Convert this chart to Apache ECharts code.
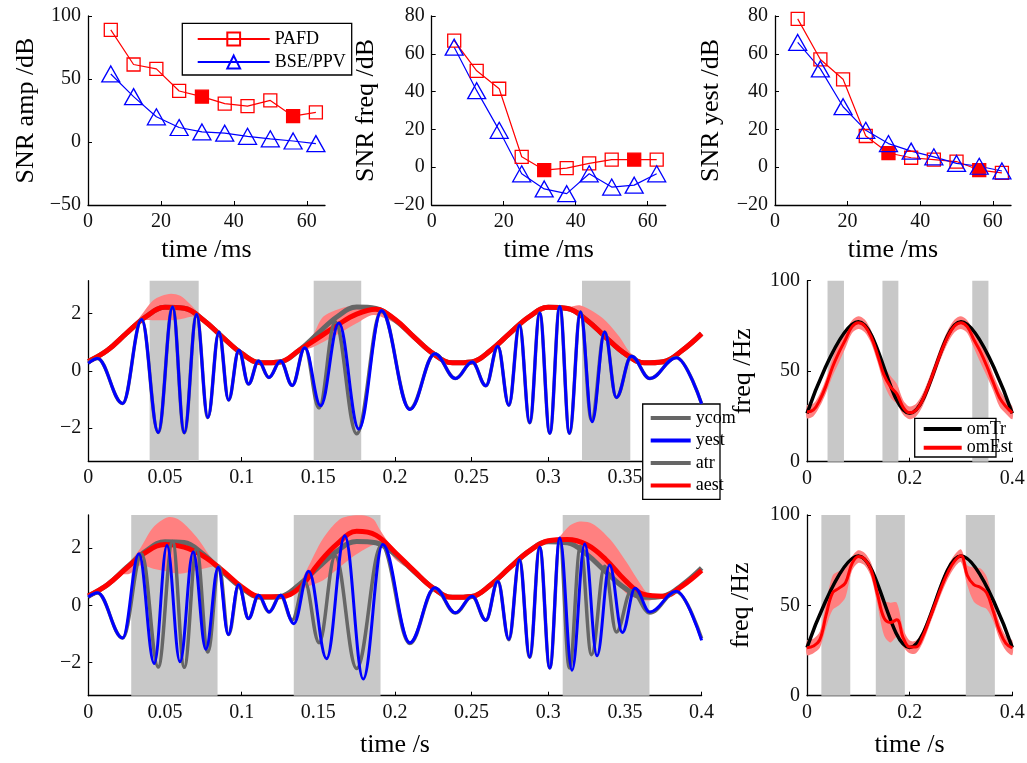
<!DOCTYPE html>
<html>
<head>
<meta charset="utf-8">
<title>PAFD vs BSE/PPV</title>
<script src="https://cdn.jsdelivr.net/npm/echarts@6/dist/echarts.min.js"></script>
</head>
<body style="margin:0;background:#fff">
<div id="main" style="width:1027px;height:763px"></div>
<script type="text/javascript">
    // SNR panels (time in ms)
    var snrTime = [6.25, 12.5, 18.75, 25, 31.25, 37.5, 43.75, 50, 56.25, 62.5];
    var snrFilled = [31.25, 56.25];
    var ampPafd = [89, 61.5, 58, 40.5, 36, 30.5, 28.5, 33, 20.5, 23.5];
    var ampBse = [54, 36, 20, 11.5, 8, 7, 4.5, 2.5, 0.8, -1.3];
    var freqPafd = [67, 51, 41.5, 5.5, -1.5, -0.5, 2, 4, 4, 4];
    var freqBse = [63.5, 40.5, 19.5, -3.5, -11.5, -14, -3.5, -10.5, -9.5, -3.5];
    var yestPafd = [78.5, 57, 46.5, 16.5, 7.5, 5, 4, 3, -1.5, -3];
    var yestBse = [66, 52, 32, 19.5, 12.5, 8.5, 5.5, 2, 0.5, -2];

    // shaded (missing data) intervals, s
    var shadeMid = [[0.040, 0.072], [0.147, 0.178], [0.322, 0.3535]];
    var shadeLow = [[0.028, 0.0843], [0.134, 0.1906], [0.3094, 0.366]];

    // signal extrema [t, y]
    var ycom = [[0, 0.28], [0.006, 0.43], [0.0224, -1.14], [0.0348, 1.79], [0.0456, -2.15], [0.055, 2.23],
        [0.0626, -2.16], [0.0706, 1.97], [0.078, -1.63], [0.0852, 1.36], [0.0915, -1.02], [0.0982, 0.72],
        [0.1045, -0.46], [0.111, 0.34], [0.1178, -0.23], [0.1254, 0.34], [0.133, -0.51], [0.1412, 0.81],
        [0.1505, -1.3], [0.161, 1.72], [0.175, -2.2], [0.1912, 2.1], [0.2097, -1.33], [0.226, 0.6],
        [0.2395, -0.27], [0.2504, 0.31], [0.2593, -0.52], [0.2671, 0.85], [0.2743, -1.2], [0.2812, 1.59],
        [0.2879, -1.81], [0.2944, 2.02], [0.301, -2.18], [0.3075, 2.25], [0.3138, -2.18], [0.321, 2.06],
        [0.3282, -1.72], [0.3368, 1.36], [0.3444, -0.93], [0.3542, 0.51], [0.3662, -0.27], [0.3835, 0.47],
        [0.4, -1.15]];
    var yestMid = [[0, 0.26], [0.006, 0.43], [0.0224, -1.14], [0.0348, 1.79], [0.0456, -2.15], [0.055, 2.23],
        [0.0626, -2.16], [0.0706, 1.97], [0.078, -1.63], [0.0852, 1.36], [0.0915, -1.02], [0.0982, 0.72],
        [0.1045, -0.46], [0.111, 0.34], [0.1178, -0.23], [0.1254, 0.34], [0.133, -0.51], [0.1412, 0.81],
        [0.1515, -1.22], [0.1634, 1.67], [0.1764, -2.03], [0.1912, 2.1], [0.2097, -1.35], [0.226, 0.6],
        [0.2395, -0.27], [0.2504, 0.31], [0.2593, -0.52], [0.2671, 0.86], [0.2743, -1.2], [0.2812, 1.59],
        [0.2879, -1.81], [0.2944, 2.02], [0.301, -2.18], [0.3075, 2.25], [0.3138, -2.18], [0.321, 2.06],
        [0.3286, -1.78], [0.3368, 1.36], [0.3444, -0.93], [0.3542, 0.51], [0.3662, -0.27], [0.3835, 0.46],
        [0.4, -1.15]];
    var yestLow = [[0, 0.29], [0.006, 0.44], [0.0224, -1.14], [0.033, 1.8], [0.043, -2.03], [0.0513, 2.09],
        [0.0598, -1.97], [0.0684, 1.86], [0.0767, -1.53], [0.0847, 1.33], [0.0913, -1.02], [0.098, 0.72],
        [0.1045, -0.46], [0.111, 0.35], [0.118, -0.23], [0.1254, 0.35], [0.134, -0.64], [0.1438, 1.19],
        [0.1554, -1.86], [0.1673, 2.43], [0.1793, -2.57], [0.192, 2.12], [0.2097, -1.3], [0.226, 0.61],
        [0.2395, -0.26], [0.2504, 0.32], [0.2593, -0.52], [0.2671, 0.83], [0.2743, -1.18], [0.2812, 1.59],
        [0.2879, -1.8], [0.2944, 2.03], [0.301, -2.18], [0.3075, 2.35], [0.3155, -2.26], [0.3238, 2.14],
        [0.3318, -1.76], [0.34, 1.41], [0.3483, -0.95], [0.3566, 0.6], [0.3662, -0.23], [0.3835, 0.49],
        [0.4, -1.22]];

    // envelopes on a common time grid
    var envT = [0, 0.0125, 0.025, 0.0375, 0.05, 0.0625, 0.075, 0.0875, 0.1, 0.1125, 0.125, 0.1375, 0.15,
        0.1625, 0.175, 0.1875, 0.2, 0.2125, 0.225, 0.2375, 0.25, 0.2625, 0.275, 0.2875, 0.3, 0.3125, 0.325,
        0.3375, 0.35, 0.3625, 0.375, 0.3875, 0.4];
    var atr = [0.33, 0.72, 1.32, 1.89, 2.22, 2.19, 1.78, 1.18, 0.61, 0.28, 0.31, 0.72, 1.32, 1.9, 2.23, 2.18,
        1.78, 1.18, 0.6, 0.28, 0.31, 0.72, 1.32, 1.89, 2.22, 2.18, 1.78, 1.17, 0.6, 0.28, 0.32, 0.72, 1.3];
    var aestMid = [0.33, 0.72, 1.32, 1.89, 2.22, 2.19, 1.78, 1.18, 0.61, 0.28, 0.31, 0.72, 1.15, 1.6, 1.98, 2.15,
        1.8, 1.18, 0.6, 0.28, 0.31, 0.72, 1.32, 1.89, 2.22, 2.18, 1.78, 1.17, 0.6, 0.28, 0.32, 0.72, 1.3];
    var aestLow = [0.33, 0.72, 1.3, 1.85, 2.12, 2.03, 1.72, 1.22, 0.65, 0.3, 0.3, 0.6, 1.45, 2.15, 2.58, 2.45,
        1.85, 1.2, 0.6, 0.28, 0.31, 0.72, 1.32, 1.89, 2.25, 2.3, 2.12, 1.6, 0.88, 0.38, 0.32, 0.68, 1.22];

    // aest confidence bands: [t], [lower], [upper]
    var bandMid = [
        [[0.03, 0.036, 0.042, 0.048, 0.054, 0.06, 0.066, 0.072, 0.076],
         [1.52, 1.76, 1.77, 1.77, 1.77, 1.8, 1.88, 1.9, 1.7],
         [1.6, 2.05, 2.45, 2.62, 2.69, 2.62, 2.35, 2.02, 1.78]],
        [[0.138, 0.146, 0.153, 0.164, 0.175, 0.186, 0.197, 0.205],
         [0.7, 0.82, 1.0, 1.32, 1.66, 1.95, 1.75, 1.52],
         [0.78, 1.2, 1.88, 2.17, 2.29, 2.24, 1.98, 1.6]],
        [[0.305, 0.314, 0.3205, 0.329, 0.338, 0.3465, 0.353, 0.36],
         [2.17, 2.1, 1.98, 1.6, 1.05, 0.65, 0.42, 0.28],
         [2.25, 2.24, 2.29, 2.08, 1.72, 1.18, 0.66, 0.36]]
    ];
    var bandLow = [
        [[0.022, 0.027, 0.0337, 0.0424, 0.052, 0.0598, 0.0706, 0.079, 0.0837, 0.088],
         [1.1, 1.1, 1.39, 1.28, 1.18, 1.1, 1.22, 1.33, 1.33, 1.18],
         [1.18, 1.5, 1.97, 2.72, 3.07, 2.96, 2.38, 1.74, 1.45, 1.24]],
        [[0.128, 0.134, 0.1423, 0.153, 0.164, 0.1727, 0.18, 0.186, 0.19, 0.195, 0.2, 0.207],
         [0.28, 0.35, 0.64, 0.87, 1.33, 1.7, 1.95, 2.1, 2.12, 1.95, 1.62, 1.35],
         [0.32, 0.45, 1.22, 2.32, 3.0, 3.13, 3.13, 3.0, 2.65, 2.25, 1.97, 1.45]],
        [[0.303, 0.3075, 0.314, 0.3205, 0.329, 0.34, 0.351, 0.36, 0.366, 0.372],
         [2.22, 2.3, 2.25, 2.03, 1.62, 1.1, 0.41, 0.2, 0.17, 0.27],
         [2.28, 2.4, 2.78, 2.92, 2.84, 2.32, 1.51, 0.75, 0.35, 0.33]]
    ];

    // instantaneous frequency, Hz
    var omTr = [[0, 26.7], [0.1, 77.3], [0.2, 26.7], [0.3, 77.3], [0.4, 26.7]];
    var omEstMid = [27.5, 28.6, 34.1, 42.3, 52.5, 60.5, 67.5, 74.5, 76.8, 75, 69, 59, 48, 41.5, 37.5, 30, 27, 28.5,
        34, 42.5, 52, 61.5, 69.5, 75, 76.8, 74.5, 67.5, 61, 53, 44, 35.5, 30.5, 27];
    var omHalfMid = [3.5, 3.5, 3.5, 4, 5, 5.5, 4.5, 3.5, 3.5, 3.5, 3.5, 4, 5, 6, 5.5, 4, 3.5, 3.5, 3.5, 3.5, 3.5,
        3.5, 3.5, 3.5, 3.5, 3.5, 4.5, 6, 5.5, 4.5, 5, 4, 3.5];
    var omEstLow = [26.5, 27.5, 31, 45, 57, 59.5, 62.5, 73, 77, 75.5, 69.5, 56, 43, 40.5, 42, 32, 27, 27, 32.5,
        41.5, 51, 60.5, 68.5, 74.5, 77.5, 66.5, 61.5, 60, 57, 47, 36, 29, 26.5];
    var omHalfLow = [4, 4, 4.5, 7, 9.5, 9.5, 8, 4, 3.5, 3.5, 4, 6, 9.5, 11, 9.5, 5, 3.5, 3.5, 3.5, 3.5, 3.5, 3.5,
        3.5, 3.5, 3.5, 5.5, 9.5, 10.5, 9, 5.5, 4.5, 4, 4];

    var FONT = 'Liberation Serif';
    var PINK = '#ff8080';
    var SHADE = '#c8c8c8';

    var myChart = echarts.init(document.getElementById('main'));

    function pairs(t, v) {
        return t.map(function (x, i) { return [x, v[i]]; });
    }
    function minus(v) {
        return String(v).replace('-', '\u2212');
    }

    var grids = [
        {left: 88, top: 16, width: 237, height: 189},
        {left: 431.7, top: 16, width: 234, height: 189},
        {left: 775, top: 16, width: 236, height: 189},
        {left: 88.3, top: 280.7, width: 613.3, height: 180.3},
        {left: 88.3, top: 515, width: 613.3, height: 180.7},
        {left: 807, top: 280.7, width: 205.3, height: 181},
        {left: 807, top: 515, width: 205.3, height: 180.7}
    ].map(function (g) {
        g.outerBoundsMode = 'none';
        g.containLabel = false;
        return g;
    });

    function axis(i, min, max, ticks, name, gap) {
        return {
            type: 'value', gridIndex: i, min: min, max: max,
            axisLine: {show: true, onZero: false, lineStyle: {color: '#000', width: 1.3}},
            axisTick: {show: true, inside: true, length: 4, customValues: ticks,
                lineStyle: {color: '#000', width: 1}},
            axisLabel: {show: true, customValues: ticks, fontFamily: FONT, fontSize: 20, color: '#111',
                margin: 7, formatter: minus},
            splitLine: {show: false},
            name: name || '', nameLocation: 'middle', nameGap: gap || 0,
            nameTextStyle: {fontFamily: FONT, fontSize: 26, color: '#000'}
        };
    }

    var msTicks = [0, 20, 40, 60];
    var sTicks = [0, 0.05, 0.1, 0.15, 0.2, 0.25, 0.3, 0.35, 0.4];
    var xAxes = [
        axis(0, 0, 65, msTicks, 'time /ms', 32),
        axis(1, 0, 65, msTicks, 'time /ms', 32),
        axis(2, 0, 65, msTicks, 'time /ms', 32),
        axis(3, 0, 0.4, sTicks),
        axis(4, 0, 0.4, sTicks, 'time /s', 36),
        axis(5, 0, 0.4, [0, 0.2, 0.4]),
        axis(6, 0, 0.4, [0, 0.2, 0.4], 'time /s', 36)
    ];
    var yAxes = [
        axis(0, -50, 100, [-50, 0, 50, 100], 'SNR amp /dB', 49),
        axis(1, -20, 80, [-20, 0, 20, 40, 60, 80], 'SNR freq /dB', 53),
        axis(2, -20, 80, [-20, 0, 20, 40, 60, 80], 'SNR yest /dB', 51),
        axis(3, -3.15, 3.15, [-2, 0, 2]),
        axis(4, -3.15, 3.15, [-2, 0, 2]),
        axis(5, 0, 100, [0, 50, 100], 'freq /Hz', 51),
        axis(6, 0, 100, [0, 50, 100], 'freq /Hz', 53)
    ];

    var series = [];

    // gray shaded intervals
    [[3, shadeMid], [4, shadeLow], [5, shadeMid], [6, shadeLow]].forEach(function (s) {
        series.push({
            type: 'line', name: 'shade' + s[0], xAxisIndex: s[0], yAxisIndex: s[0],
            data: [], silent: true, symbol: 'none',
            markArea: {
                silent: true, itemStyle: {color: SHADE},
                data: s[1].map(function (r) { return [{xAxis: r[0]}, {xAxis: r[1]}]; })
            }
        });
    });

    // SNR panels
    function snrSeries(ax, pafd, bse) {
        series.push({
            type: 'line', name: 'PAFD', xAxisIndex: ax, yAxisIndex: ax,
            data: snrTime.map(function (t, i) {
                var p = {value: [t, pafd[i]]};
                if (snrFilled.indexOf(t) >= 0) p.itemStyle = {color: '#ff0000'};
                return p;
            }),
            symbol: 'rect', symbolSize: 13,
            itemStyle: {color: 'rgba(255,255,255,0)', borderColor: '#ff0000', borderWidth: 1.3},
            lineStyle: {color: '#ff0000', width: 1.2}
        });
        series.push({
            type: 'line', name: 'BSE/PPV', xAxisIndex: ax, yAxisIndex: ax,
            data: pairs(snrTime, bse),
            symbol: 'triangle', symbolSize: [18, 16],
            itemStyle: {color: 'rgba(255,255,255,0)', borderColor: '#0000ff', borderWidth: 1.3},
            lineStyle: {color: '#0000ff', width: 1.2}
        });
    }
    snrSeries(0, ampPafd, ampBse);
    snrSeries(1, freqPafd, freqBse);
    snrSeries(2, yestPafd, yestBse);

    // pink band polygon drawn through the axes
    function band(ax, t, lo, hi) {
        series.push({
            type: 'custom', name: 'band', xAxisIndex: ax, yAxisIndex: ax, silent: true,
            data: [[t[0], lo[0]]],
            renderItem: function (params, api) {
                var pts = [];
                for (var i = 0; i < t.length; i++) pts.push(api.coord([t[i], hi[i]]));
                for (var j = t.length - 1; j >= 0; j--) pts.push(api.coord([t[j], lo[j]]));
                return {type: 'polygon', shape: {points: pts, smooth: 0.3}, style: {fill: PINK}};
            }
        });
    }

    function line(ax, name, data, color, width, mono) {
        var s = {
            type: 'line', name: name, xAxisIndex: ax, yAxisIndex: ax, data: data,
            symbol: 'none', smooth: mono ? 0.38 : 0.4,
            lineStyle: {color: color, width: width}, itemStyle: {color: color}
        };
        if (mono) s.smoothMonotone = 'x';
        series.push(s);
    }

    // signal panels
    bandMid.forEach(function (b) { band(3, b[0], b[1], b[2]); });
    line(3, 'atr', pairs(envT, atr), '#666666', 5);
    line(3, 'aest', pairs(envT, aestMid), '#ff0000', 5);
    line(3, 'ycom', ycom, '#666666', 3.5, true);
    line(3, 'yest', yestMid, '#0000ff', 3, true);

    bandLow.forEach(function (b) { band(4, b[0], b[1], b[2]); });
    line(4, 'atr', pairs(envT, atr), '#666666', 5);
    line(4, 'aest', pairs(envT, aestLow), '#ff0000', 5);
    line(4, 'ycom', ycom, '#666666', 3.5, true);
    line(4, 'yest', yestLow, '#0000ff', 3, true);

    // frequency panels
    band(5, envT, omEstMid.map(function (v, i) { return v - omHalfMid[i]; }),
        omEstMid.map(function (v, i) { return v + omHalfMid[i]; }));
    line(5, 'omTr', omTr, '#000000', 3.5, true);
    line(5, 'omEst', pairs(envT, omEstMid), '#ff0000', 3);

    band(6, envT, omEstLow.map(function (v, i) { return v - omHalfLow[i]; }),
        omEstLow.map(function (v, i) { return v + omHalfLow[i]; }));
    line(6, 'omTr', omTr, '#000000', 3.5, true);
    line(6, 'omEst', pairs(envT, omEstLow), '#ff0000', 3);

    var legendText = {fontFamily: FONT, fontSize: 18, color: '#000', lineHeight: 18};
    function bar(names) {
        return names.map(function (n) { return {name: n, icon: 'rect'}; });
    }

    option = {
        animation: false,
        backgroundColor: '#fff',
        grid: grids,
        xAxis: xAxes,
        yAxis: yAxes,
        legend: [{
            data: ['PAFD', 'BSE/PPV'], orient: 'vertical', left: 196.7, top: 30,
            itemWidth: 72, itemHeight: 16, itemGap: 5, padding: 0, selectedMode: false,
            textStyle: legendText
        }, {
            data: bar(['ycom', 'yest', 'atr', 'aest']), orient: 'vertical', left: 650.7, top: 409,
            itemWidth: 40, itemHeight: 4, itemGap: 4.5, padding: 0, selectedMode: false,
            textStyle: legendText
        }, {
            data: bar(['omTr', 'omEst']), orient: 'vertical', left: 923.7, top: 420,
            itemWidth: 38, itemHeight: 4, itemGap: 0.7, padding: 0, selectedMode: false,
            textStyle: {fontFamily: FONT, fontSize: 18, color: '#000', lineHeight: 16}
        }],
        // legend boxes
        graphic: [
            {type: 'rect', z: 3, shape: {x: 182.3, y: 23.3, width: 169.4, height: 51.7},
                style: {fill: '#fff', stroke: '#000', lineWidth: 1.3}},
            {type: 'rect', z: 3, shape: {x: 642.7, y: 404, width: 77.3, height: 95.3},
                style: {fill: '#fff', stroke: '#000', lineWidth: 1.3}},
            {type: 'rect', z: 3, shape: {x: 914.7, y: 418.3, width: 81.3, height: 38.7},
                style: {fill: '#fff', stroke: '#000', lineWidth: 1.3}}
        ],
        series: series
    };
    myChart.setOption(option);
</script>
</body>
</html>
